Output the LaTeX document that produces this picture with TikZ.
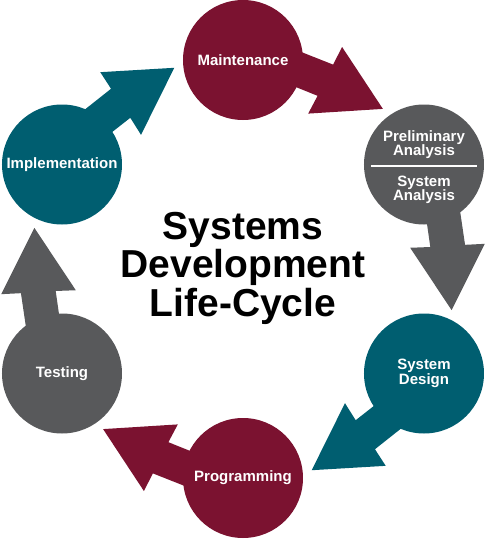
\documentclass[tikz,border=0pt]{standalone}
\usepackage{fontspec}
\setmainfont{Liberation Sans}
\usetikzlibrary{backgrounds}
\definecolor{sdlcmaroon}{HTML}{7B1230}
\definecolor{sdlcteal}{HTML}{005E70}
\definecolor{sdlcgray}{HTML}{58595B}
\tikzset{
  phase/.style={circle, minimum size=120pt, inner sep=0pt, text=white,
    align=center, font=\fontsize{15}{14.5}\selectfont\bfseries},
  phasetext/.style={inner sep=0pt, text=white, align=center,
    font=\fontsize{15}{14.5}\selectfont\bfseries},
  pics/cyclearrow/.style={code={
    \fill (23.1,21.9) -- (90.1,-4.6) -- (99.1,13) -- (139.9,-48.9)
      -- (65.2,-53.6) -- (74.6,-35.8) -- (16.8,-12.6) -- cycle;
  }},
}
\begin{document}
\begin{tikzpicture}[x=1pt, y=1pt]
    \useasboundingbox (-243,-270) rectangle (243,269);
    % the six phases
    \node[phase, fill=sdlcmaroon] (mnt) at (90:209) {Maintenance};
    \node[phase, fill=sdlcgray] (ana) at (30:209) {};
    \node[phase, fill=sdlcteal] (dsg) at (-30:209) {System\\Design};
    \node[phase, fill=sdlcmaroon] (prg) at (-90:209) {Programming};
    \node[phase, fill=sdlcgray] (tst) at (-150:209) {Testing};
    \node[phase, fill=sdlcteal] (imp) at (150:209) {Implementation};
    \node[phasetext] (pre) at ([yshift=19.8pt]ana.center) {Preliminary\\Analysis};
    \node[phasetext] (sys) at ([yshift=-25.1pt]ana.center) {System\\Analysis};
    \draw[white, line width=2pt] ([shift={(-53pt,-1pt)}]ana.center) -- ([shift={(53pt,-1pt)}]ana.center);
    % arrows behind the circles
    \begin{scope}[on background layer]
      \pic[fill=sdlcmaroon] at (mnt.center) {cyclearrow};
      \pic[fill=sdlcgray, rotate=-60] at (ana.center) {cyclearrow};
      \pic[fill=sdlcteal, rotate=-120] at (dsg.center) {cyclearrow};
      \pic[fill=sdlcmaroon, rotate=180] at (prg.center) {cyclearrow};
      \pic[fill=sdlcgray, rotate=120] at (tst.center) {cyclearrow};
      \pic[fill=sdlcteal, rotate=60] at (imp.center) {cyclearrow};
    \end{scope}
    \node[inner sep=0pt, align=center, font=\fontsize{39}{38.5}\selectfont\bfseries]
      (title) at (0,0.7) {Systems\\Development\\Life-Cycle};
  \end{tikzpicture}
\end{document}
